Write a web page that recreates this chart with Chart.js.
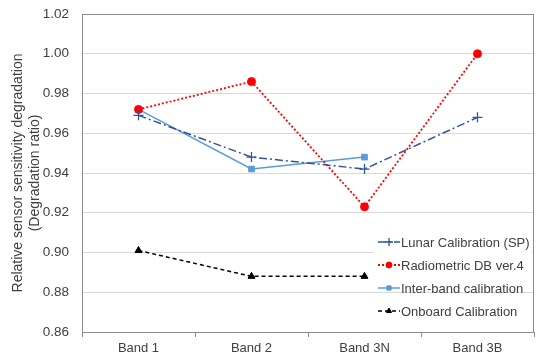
<!DOCTYPE html>
<html>
<head>
<meta charset="utf-8">
<script src="https://cdn.jsdelivr.net/npm/chart.js@4"></script>
<style>
  html, body { margin: 0; padding: 0; background: #fff; }
  #wrap { width: 550px; height: 360px; position: relative; }
</style>
</head>
<body>
<div id="wrap"><canvas id="chart"></canvas></div>
<script>
// Data
const bands = ['Band 1', 'Band 2', 'Band 3N', 'Band 3B'];
const lunar = [0.969, 0.948, 0.942, 0.968];
const radiometric = [0.972, 0.986, 0.923, 1.000];
const interBand = [0.972, 0.942, 0.948, null];
const onboard = [0.901, 0.888, 0.888, null];
const yTicks = [0.86, 0.88, 0.90, 0.92, 0.94, 0.96, 0.98, 1.00, 1.02];

const FONT = "'Liberation Sans', Arial, sans-serif";
Chart.defaults.font.family = FONT;
Chart.defaults.color = '#404040';

/** Plot frame + legend drawn inside the plot area (lower right) */
const framePlugin = {
  id: 'frame',
  beforeDatasetsDraw(chart) {
    const { ctx, chartArea: a } = chart;
    ctx.save();
    ctx.strokeStyle = '#8c8c8c';
    ctx.lineWidth = 1;
    ctx.strokeRect(a.left + 0.5, a.top + 0.5, a.right - a.left - 1, a.bottom - a.top);
    ctx.restore();
  },
  afterDatasetsDraw(chart) {
    const { ctx } = chart;
    const x0 = 378, x1 = 400, rowY = [242, 265, 288, 311];
    ctx.save();
    // white patch behind the first rows
    ctx.fillStyle = '#fff';
    ctx.fillRect(374, 232, 158, 44);
    chart.data.datasets.forEach((ds, i) => {
      const y = rowY[i];
      ctx.strokeStyle = ds.borderColor;
      ctx.lineWidth = ds.borderWidth;
      ctx.setLineDash(ds.borderDash || []);
      ctx.beginPath();
      ctx.moveTo(x0, y);
      ctx.lineTo(x1, y);
      ctx.stroke();
      ctx.setLineDash([]);
      ctx.fillStyle = ds.pointBackgroundColor;
      ctx.strokeStyle = ds.pointBorderColor;
      ctx.lineWidth = ds.pointBorderWidth;
      Chart.helpers.drawPoint(ctx, {
        pointStyle: ds.pointStyle,
        radius: ds.pointRadius - 1,
        borderWidth: ds.pointBorderWidth,
        rotation: 0
      }, (x0 + x1) / 2, y);
      ctx.fillStyle = '#404040';
      ctx.font = '13px ' + FONT;
      ctx.textBaseline = 'middle';
      ctx.textAlign = 'left';
      ctx.fillText(ds.label, x1 + 1, y + 1);
    });
    ctx.restore();
  }
};

new Chart(document.getElementById('chart'), {
  type: 'line',
  data: {
    labels: bands,
    datasets: [{
      label: 'Lunar Calibration (SP)',
      data: lunar,
      borderColor: '#2f5597',
      borderWidth: 1.5,
      borderDash: [8, 3, 2, 3],
      pointStyle: 'cross',
      pointRadius: 5,
      pointBorderWidth: 1.3,
      pointBackgroundColor: '#2f5597',
      pointBorderColor: '#2f5597'
    }, {
      label: 'Radiometric DB ver.4',
      data: radiometric,
      borderColor: '#ff0000',
      borderWidth: 1.8,
      borderDash: [2, 2],
      pointStyle: 'circle',
      pointRadius: 4,
      pointBorderWidth: 1,
      pointBackgroundColor: '#ff0000',
      pointBorderColor: '#ff0000'
    }, {
      label: 'Inter-band calibration',
      data: interBand,
      borderColor: '#5b9bd5',
      borderWidth: 1.5,
      pointStyle: 'rect',
      pointRadius: 4,
      pointBorderWidth: 1,
      pointBackgroundColor: '#5b9bd5',
      pointBorderColor: '#5b9bd5'
    }, {
      label: 'Onboard Calibration',
      data: onboard,
      borderColor: '#000000',
      borderWidth: 1.5,
      borderDash: [4, 3],
      pointStyle: 'triangle',
      pointRadius: 4,
      pointBorderWidth: 1,
      pointBackgroundColor: '#000000',
      pointBorderColor: '#000000'
    }]
  },
  options: {
    responsive: true,
    maintainAspectRatio: false,
    animation: false,
    spanGaps: false,
    layout: { padding: { left: 0, top: 14, right: 16, bottom: 0 } },
    plugins: {
      legend: { display: false },
      tooltip: { enabled: false }
    },
    scales: {
      x: {
        offset: true,
        grid: { offset: true, drawOnChartArea: false, tickLength: 5, color: '#8c8c8c' },
        border: { color: '#8c8c8c' },
        ticks: { font: { size: 13 }, padding: 4, color: '#404040' },
        afterFit: (axis) => { axis.height = 28; axis.paddingLeft = 0; axis.paddingRight = 0; }
      },
      y: {
        min: 0.86,
        max: 1.02,
        afterBuildTicks: (axis) => { axis.ticks = yTicks.map(v => ({ value: v })); },
        grid: { color: '#d9d9d9', drawTicks: false },
        border: { color: '#8c8c8c' },
        ticks: {
          font: { size: 13.5 },
          padding: 13,
          color: '#404040',
          callback: (v) => Number(v).toFixed(2)
        },
        title: {
          display: true,
          text: ['Relative sensor sensitivity degradation', '(Degradation ratio)'],
          font: { size: 14, lineHeight: 1.2 },
          color: '#404040',
          padding: { top: 10, bottom: 0 }
        },
        afterFit: (axis) => { axis.width = 82; axis.paddingTop = 0; axis.paddingBottom = 0; }
      }
    }
  },
  plugins: [framePlugin]
});
</script>
</body>
</html>
